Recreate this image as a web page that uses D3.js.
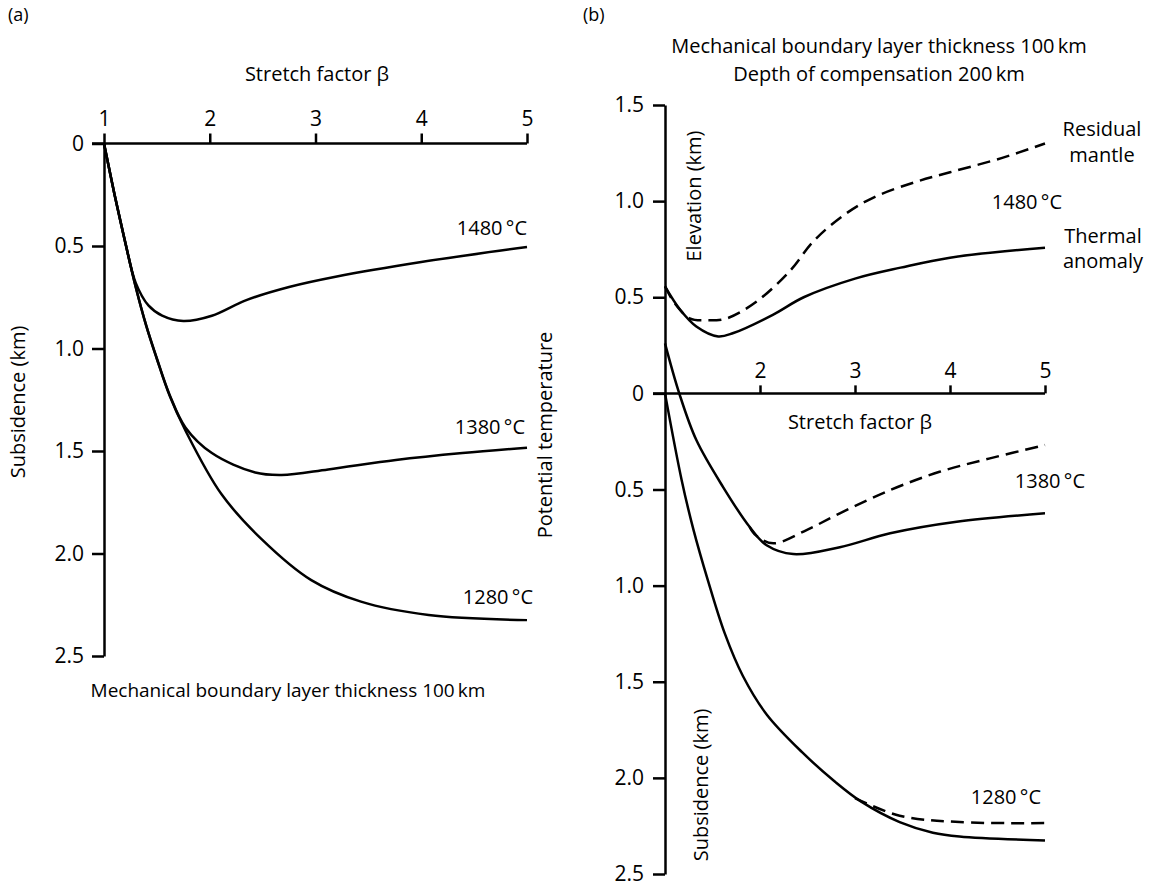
<!DOCTYPE html>
<html>
<head>
<meta charset="utf-8">
<script src="https://cdn.jsdelivr.net/npm/d3@7"></script>
<style>
  body { margin: 0; background: #fff; }
  svg text { font-family: "Open Sans", sans-serif; fill: #000; }
</style>
</head>
<body>
<div id="chart"></div>
<script>
const W = 1155, H = 889;

// ---- panel (a): subsidence (km) against stretch factor
const a1480Beta = [1.0, 1.1, 1.2, 1.3, 1.42, 1.55, 1.75, 2.02, 2.34, 2.75, 3.19, 4.0, 5.0];
const a1480Subs = [0, 0.25, 0.48, 0.68, 0.79, 0.84, 0.866, 0.84, 0.765, 0.70, 0.65, 0.578, 0.505];

const a1380Beta = [1.0, 1.1, 1.2, 1.3, 1.4, 1.5, 1.62, 1.77, 2.02, 2.43, 2.68, 3.12, 3.76, 4.39, 5.0];
const a1380Subs = [0, 0.25, 0.48, 0.70, 0.89, 1.05, 1.225, 1.385, 1.51, 1.605, 1.617, 1.59, 1.544, 1.51, 1.484];

const a1280Beta = [1.0, 1.1, 1.2, 1.3, 1.4, 1.5, 1.62, 1.77, 2.11, 2.49, 2.96, 3.43, 4.07, 5.0];
const a1280Subs = [0, 0.25, 0.48, 0.70, 0.89, 1.05, 1.23, 1.40, 1.71, 1.93, 2.13, 2.235, 2.30, 2.325];

const tempLabels = ["1480\u2009°C", "1380\u2009°C", "1280\u2009°C"];

// ---- panel (b): elevation (+) / subsidence (-) in km
const b1480ThermBeta = [1.0, 1.16, 1.33, 1.56, 1.72, 2.14, 2.46, 3.0, 3.48, 4.0, 5.0];
const b1480ThermElev = [0.557, 0.435, 0.348, 0.296, 0.314, 0.41, 0.50, 0.597, 0.654, 0.706, 0.758];

const b1480ResidBeta = [1.0, 1.1, 1.26, 1.44, 1.65, 1.97, 2.32, 2.56, 2.89, 3.2, 3.64, 4.0, 4.55, 5.0];
const b1480ResidElev = [0.557, 0.47, 0.39, 0.38, 0.39, 0.48, 0.64, 0.79, 0.93, 1.02, 1.10, 1.15, 1.225, 1.30];

const b1380ThermBeta = [1.0, 1.15, 1.33, 1.61, 1.89, 2.07, 2.35, 2.84, 3.37, 4.07, 5.0];
const b1380ThermElev = [0.26, 0, -0.243, -0.486, -0.694, -0.79, -0.836, -0.80, -0.728, -0.668, -0.624];

const b1380ResidBeta = [1.89, 1.96, 2.14, 2.49, 2.84, 3.37, 3.89, 4.42, 5.0];
const b1380ResidElev = [-0.694, -0.74, -0.78, -0.711, -0.624, -0.503, -0.408, -0.338, -0.269];

const b1280ThermBeta = [1.0, 1.175, 1.3, 1.45, 1.63, 1.82, 2.07, 2.44, 2.79, 3.07, 3.47, 3.82, 4.1, 5.0];
const b1280ThermElev = [0, -0.45, -0.71, -0.97, -1.25, -1.47, -1.67, -1.865, -2.02, -2.125, -2.23, -2.285, -2.305, -2.326];

const b1280ResidBeta = [3.0, 3.47, 4.1, 5.0];
const b1280ResidElev = [-2.105, -2.197, -2.23, -2.235];

const betaTicksA = [1, 2, 3, 4, 5];
const betaTicksB = [2, 3, 4, 5];
const subsTicksA = [0, 0.5, 1.0, 1.5, 2.0, 2.5];
const elevTicksB = [1.5, 1.0, 0.5, 0, -0.5, -1.0, -1.5, -2.0, -2.5];

function zip(bs, vs) { return bs.map((b, i) => ({beta: b, v: vs[i]})); }

var svg = d3.select("#chart").append("svg")
    .attr("width", W)
    .attr("height", H);

const fs = 20;       // label font size
const tfs = 21;      // tick label font size
const lw = 2.5;

// ===== panel (a)
var xA = d3.scaleLinear().domain([1, 5]).range([104, 527]);
var yA = d3.scaleLinear().domain([0, 2.5]).range([143.5, 656]);

var axA = svg.append("g")
    .attr("transform", `translate(0, ${yA(0)})`)
    .call(d3.axisTop(xA).tickValues(betaTicksA).tickSize(10).tickSizeOuter(0).tickPadding(8).tickFormat(d3.format("d")));

var ayA = svg.append("g")
    .attr("transform", `translate(${xA(1)}, 0)`)
    .call(d3.axisLeft(yA).tickValues(subsTicksA).tickSize(12).tickSizeOuter(0).tickPadding(8)
        .tickFormat(d => d === 0 ? "0" : d3.format(".1f")(d)));

// x axis line reaches back to the 0 tick
axA.select(".domain").attr("d", `M${xA(1) - 12},0H${xA(5)}`);

var lineA = d3.line()
    .x(d => xA(d.beta))
    .y(d => yA(d.v))
    .curve(d3.curveCatmullRom.alpha(0.5));

[[a1480Beta, a1480Subs], [a1380Beta, a1380Subs], [a1280Beta, a1280Subs]].forEach(s => {
    svg.append("path")
        .datum(zip(s[0], s[1]))
        .attr("fill", "none")
        .attr("stroke", "#000")
        .attr("stroke-width", lw)
        .attr("d", lineA);
});

svg.append("text").attr("x", 8).attr("y", 21).style("font-size", "18px").text("(a)");
svg.append("text").attr("x", 317).attr("y", 81).attr("text-anchor", "middle")
    .style("font-size", fs + "px").text("Stretch factor β");
svg.append("text").attr("transform", "translate(25, 402) rotate(-90)").attr("text-anchor", "middle")
    .style("font-size", fs + "px").text("Subsidence (km)");
svg.append("text").attr("x", 288).attr("y", 697).attr("text-anchor", "middle")
    .style("font-size", "19px").text("Mechanical boundary layer thickness 100\u2009km");

// curve labels (a)
svg.append("text").attr("x", 527).attr("y", 235).attr("text-anchor", "end")
    .style("font-size", fs + "px").text(tempLabels[0]);
svg.append("text").attr("x", 525).attr("y", 434).attr("text-anchor", "end")
    .style("font-size", fs + "px").text(tempLabels[1]);
svg.append("text").attr("x", 533).attr("y", 604).attr("text-anchor", "end")
    .style("font-size", fs + "px").text(tempLabels[2]);

svg.append("text").attr("transform", "translate(552, 435) rotate(-90)").attr("text-anchor", "middle")
    .style("font-size", fs + "px").text("Potential temperature");

// ===== panel (b)
var xB = d3.scaleLinear().domain([1, 5]).range([665, 1045]);
var yB = d3.scaleLinear().domain([1.5, -2.5]).range([105, 874]);

var axB = svg.append("g")
    .attr("transform", `translate(0, ${yB(0)})`)
    .call(d3.axisTop(xB).tickValues(betaTicksB).tickSize(8).tickSizeOuter(0).tickPadding(7).tickFormat(d3.format("d")));

var ayB = svg.append("g")
    .attr("transform", `translate(${xB(1)}, 0)`)
    .call(d3.axisLeft(yB).tickValues(elevTicksB).tickSize(12).tickSizeOuter(0).tickPadding(9)
        .tickFormat(d => d === 0 ? "0" : d3.format(".1f")(Math.abs(d))));

axB.select(".domain").attr("d", `M${xB(1) - 12},0H${xB(5)}`);

var lineB = d3.line()
    .x(d => xB(d.beta))
    .y(d => yB(d.v))
    .curve(d3.curveCatmullRom.alpha(0.5));

[[b1480ThermBeta, b1480ThermElev], [b1380ThermBeta, b1380ThermElev], [b1280ThermBeta, b1280ThermElev]].forEach(s => {
    svg.append("path")
        .datum(zip(s[0], s[1]))
        .attr("fill", "none")
        .attr("stroke", "#000")
        .attr("stroke-width", lw)
        .attr("d", lineB);
});

[[b1480ResidBeta, b1480ResidElev], [b1380ResidBeta, b1380ResidElev], [b1280ResidBeta, b1280ResidElev]].forEach(s => {
    svg.append("path")
        .datum(zip(s[0], s[1]))
        .attr("fill", "none")
        .attr("stroke", "#000")
        .attr("stroke-width", lw)
        .style("stroke-dasharray", "13, 7")
        .attr("d", lineB);
});

svg.append("text").attr("x", 583).attr("y", 21).style("font-size", "18px").text("(b)");
svg.append("text").attr("x", 879).attr("y", 53).attr("text-anchor", "middle")
    .style("font-size", "20px").text("Mechanical boundary layer thickness 100\u2009km");
svg.append("text").attr("x", 879).attr("y", 81).attr("text-anchor", "middle")
    .style("font-size", "20px").text("Depth of compensation 200\u2009km");

svg.append("text").attr("x", 860).attr("y", 429).attr("text-anchor", "middle")
    .style("font-size", fs + "px").text("Stretch factor β");
svg.append("text").attr("transform", "translate(701, 196) rotate(-90)").attr("text-anchor", "middle")
    .style("font-size", fs + "px").text("Elevation (km)");
svg.append("text").attr("transform", "translate(708, 785) rotate(-90)").attr("text-anchor", "middle")
    .style("font-size", fs + "px").text("Subsidence (km)");

// curve labels (b)
svg.append("text").attr("x", 1102).attr("y", 136).attr("text-anchor", "middle")
    .style("font-size", fs + "px").text("Residual");
svg.append("text").attr("x", 1102).attr("y", 162).attr("text-anchor", "middle")
    .style("font-size", fs + "px").text("mantle");
svg.append("text").attr("x", 1062).attr("y", 209).attr("text-anchor", "end")
    .style("font-size", fs + "px").text(tempLabels[0]);
svg.append("text").attr("x", 1103).attr("y", 243).attr("text-anchor", "middle")
    .style("font-size", fs + "px").text("Thermal");
svg.append("text").attr("x", 1103).attr("y", 268).attr("text-anchor", "middle")
    .style("font-size", fs + "px").text("anomaly");
svg.append("text").attr("x", 1085).attr("y", 488).attr("text-anchor", "end")
    .style("font-size", fs + "px").text(tempLabels[1]);
svg.append("text").attr("x", 1041).attr("y", 804).attr("text-anchor", "end")
    .style("font-size", fs + "px").text(tempLabels[2]);

// axis styling
svg.selectAll(".domain, .tick line")
    .attr("stroke", "#000")
    .attr("stroke-width", 2.5);
svg.selectAll(".tick text")
    .style("font-family", "'Open Sans', sans-serif")
    .style("font-size", tfs + "px")
    .attr("fill", "#000");
</script>
</body>
</html>
